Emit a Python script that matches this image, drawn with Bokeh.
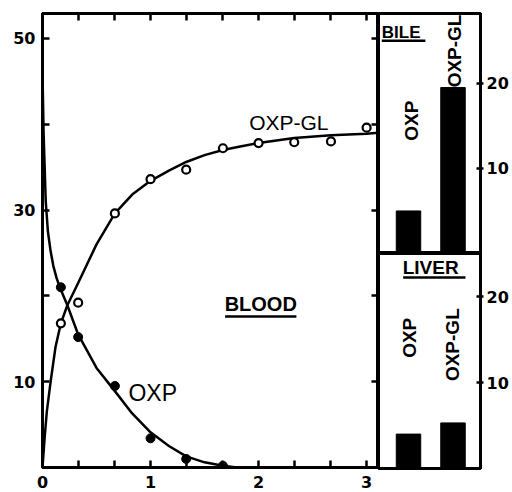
import math
from bokeh.plotting import figure
from bokeh.models import Range1d, LinearAxis, FixedTicker, CustomLabelingPolicy
from bokeh.layouts import row, column
from bokeh.core.properties import value
from bokeh.embed import file_html
from bokeh.resources import INLINE

# ---------------- data ----------------
# BLOOD, time in hours
oxp_curve_t = [0, 0.01, 0.03, 0.05, 0.074, 0.1, 0.13, 0.16, 0.23, 0.33, 0.5, 0.67,
               0.83, 1.0, 1.17, 1.33, 1.5, 1.67, 1.8]
oxp_curve_v = [46, 39, 31, 27.5, 25.3, 23.5, 22.1, 21, 18.9, 15.5, 11.6, 8.9,
               6.3, 4.1, 2.5, 1.3, 0.6, 0.2, 0]
gl_curve_t = [0, 0.02, 0.04, 0.074, 0.12, 0.17, 0.23, 0.33, 0.5, 0.67, 0.83, 1.0,
              1.17, 1.33, 1.5, 1.67, 1.83, 2.0, 2.33, 2.67, 3.0, 3.11]
gl_curve_v = [0, 3.5, 6.5, 9.9, 14, 16.8, 18.9, 21.5, 26, 29.6, 31.8, 33.4,
              34.6, 35.6, 36.4, 37.0, 37.4, 37.8, 38.4, 38.7, 38.9, 39.0]

oxp_pts_t = [0.17, 0.33, 0.67, 1.0, 1.33, 1.67]
oxp_pts_v = [21, 15.2, 9.5, 3.4, 1.0, 0.2]
gl_pts_t = [0.17, 0.33, 0.67, 1.0, 1.33, 1.67, 2.0, 2.33, 2.67, 3.0]
gl_pts_v = [16.8, 19.2, 29.6, 33.6, 34.7, 37.2, 37.8, 37.9, 38.0, 39.6]

# BILE / LIVER bars
bar_categories = ["OXP", "OXP-GL"]
bile_values = [5.0, 19.5]
liver_values = [4.0, 5.3]

# tick labels
x_major_ticks = [0, 1, 2, 3]
x_minor_ticks = [1/3, 2/3, 4/3, 5/3, 7/3, 8/3]
y_major_ticks = [10, 30, 50]
y_minor_ticks = [20, 40]
y_right_ticks = [10, 20, 30, 40, 50]
bar_ticks = [10, 20]

# ---------------- styling ----------------
TICK_FONT = value("DejaVu Sans")
LABEL_FONT = value("Liberation Sans")
BLACK = "#000000"


def style_axis(ax, tick_in, tick_out, show_labels=True, standoff=6):
    ax.axis_line_width = 3
    ax.axis_line_color = BLACK
    ax.major_tick_line_width = 2.5
    ax.major_tick_line_color = BLACK
    ax.minor_tick_line_width = 2.5
    ax.minor_tick_line_color = BLACK
    ax.major_tick_in = tick_in
    ax.major_tick_out = tick_out
    ax.minor_tick_in = tick_in
    ax.minor_tick_out = tick_out
    ax.major_label_standoff = standoff
    ax.major_label_text_font = "DejaVu Sans"
    ax.major_label_text_font_style = "bold"
    ax.major_label_text_color = BLACK
    ax.major_label_text_font_size = "16px"
    if not show_labels:
        ax.major_label_standoff = 0
        ax.major_label_text_font_size = "0px"
        ax.major_label_policy = CustomLabelingPolicy(
            code="for (const i of indices) indices.unset(i); return indices")


# ---------------- BLOOD panel ----------------
blood = figure(frame_width=336, frame_height=454,
               x_range=Range1d(0, 3.11), y_range=Range1d(0, 52.9),
               output_backend="svg", toolbar_location=None,
               min_border_left=42, min_border_right=0, min_border_top=13,
               min_border_bottom=25)
blood.xgrid.visible = False
blood.ygrid.visible = False
blood.outline_line_color = BLACK
blood.outline_line_width = 3
blood.background_fill_color = "white"
blood.border_fill_color = "white"

xt = FixedTicker(ticks=x_major_ticks, minor_ticks=x_minor_ticks)
yt = FixedTicker(ticks=y_major_ticks, minor_ticks=y_minor_ticks)
blood.xaxis[0].ticker = xt
blood.yaxis[0].ticker = yt
style_axis(blood.xaxis[0], 7, 0, True, 8)
style_axis(blood.yaxis[0], 7, 0, True, 7)

top_ax = LinearAxis(ticker=FixedTicker(ticks=x_major_ticks, minor_ticks=x_minor_ticks))
style_axis(top_ax, 7, 0, False)
blood.add_layout(top_ax, "above")
right_ax = LinearAxis(ticker=FixedTicker(ticks=y_right_ticks))
style_axis(right_ax, 7, 0, False)
blood.add_layout(right_ax, "right")

blood.line(oxp_curve_t, oxp_curve_v, line_color=BLACK, line_width=2.5)
blood.line(gl_curve_t, gl_curve_v, line_color=BLACK, line_width=2.5)
blood.scatter(oxp_pts_t, oxp_pts_v, size=9, marker="circle",
              fill_color=BLACK, line_color=BLACK)
blood.scatter(gl_pts_t, gl_pts_v, size=8, marker="circle",
              fill_color="white", line_color=BLACK, line_width=2.2)

blood.text(x=[2.28], y=[40.2], text=["OXP-GL"], text_font=LABEL_FONT,
           text_font_size="21px", text_align="center", text_baseline="middle",
           text_color=BLACK)
blood.text(x=[1.02], y=[8.7], text=["OXP"], text_font=LABEL_FONT,
           text_font_size="23px", text_align="center", text_baseline="middle",
           text_color=BLACK)
blood.text(x=[2.02], y=[19.0], text=["BLOOD"], text_font=LABEL_FONT,
           text_font_size="20px", text_font_style="bold", text_align="center",
           text_baseline="middle", text_color=BLACK)
blood.segment(x0=[1.69], y0=[17.6], x1=[2.35], y1=[17.6], line_color=BLACK,
              line_width=2.5)


# ---------------- bar panels ----------------
def bar_panel(name, values, fh, top, bottom, y_end, name_xy, underline, text_pos):
    p = figure(frame_width=102, frame_height=fh,
               x_range=Range1d(0.326, 2.618), y_range=Range1d(0, y_end),
               output_backend="svg", toolbar_location=None,
               x_axis_location=None, y_axis_location="right",
               min_border_left=0, min_border_right=32,
               min_border_top=top, min_border_bottom=bottom)
    p.xgrid.visible = False
    p.ygrid.visible = False
    p.outline_line_color = BLACK
    p.outline_line_width = 3
    p.yaxis[0].ticker = FixedTicker(ticks=bar_ticks)
    style_axis(p.yaxis[0], 4, 3, True, 3)
    xs = [i + 1 for i in range(len(bar_categories))]
    p.vbar(x=xs, top=values, bottom=0, width=0.55, fill_color=BLACK,
           line_color=BLACK)
    p.text(x=[name_xy[0]], y=[name_xy[1]], text=[name], text_font=LABEL_FONT,
           text_font_size=name_xy[2], text_font_style="bold", text_align="left",
           text_baseline="middle", text_color=BLACK)
    p.segment(x0=[underline[0]], y0=[underline[2]], x1=[underline[1]],
              y1=[underline[2]], line_color=BLACK, line_width=2.5)
    for cat, (tx, ty) in zip(bar_categories, text_pos):
        p.text(x=[tx], y=[ty], text=[cat], text_font=LABEL_FONT,
               text_font_size="19px", text_font_style="bold",
               text_align="center", text_baseline="middle",
               angle=math.pi / 2, text_color=BLACK)
    return p


bile = bar_panel("BILE", bile_values, 240, 13, 0, 28.2,
                 (0.40, 26.0, "17px"), (0.40, 1.38, 25.0),
                 [(1.07, 15.6), (2.03, 23.8)])
liver = bar_panel("LIVER", liver_values, 215, 0, 24, 25.0,
                  (0.87, 23.4, "19px"), (0.88, 2.28, 22.2),
                  [(1.02, 15.2), (1.99, 14.4)])

layout = row(blood, column(bile, liver, spacing=0), spacing=0)

open("out.html", "w").write(file_html(layout, INLINE))
